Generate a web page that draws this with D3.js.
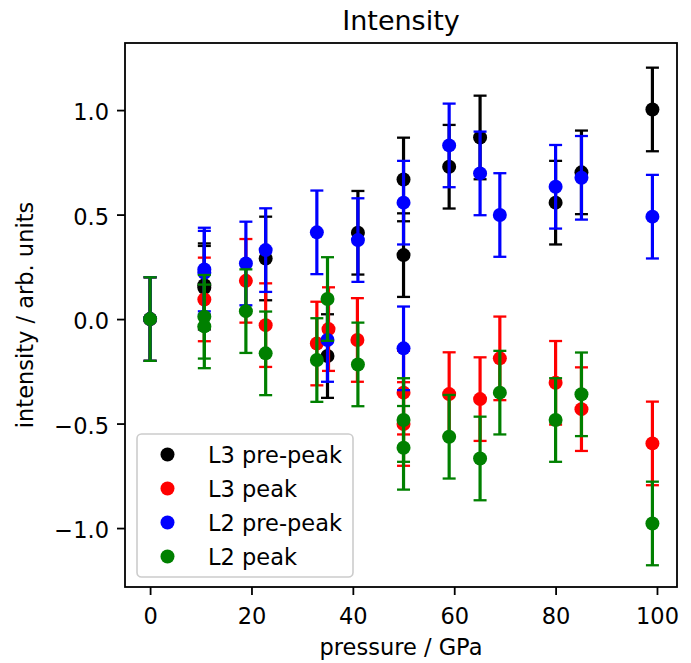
<!DOCTYPE html>
<html>
<head>
<meta charset="utf-8">
<script src="https://cdn.jsdelivr.net/npm/d3@7"></script>
<style>
  body { margin: 0; background: #fff; }
  text { font-family: "DejaVu Sans", sans-serif; fill: #000; }
</style>
</head>
<body>
<script>
"use strict";

// DATA
var pressureL3pre  = [0, 10.7, 10.7, 22.8, 35.0, 41.0, 50.0, 50.0, 59.0, 65.1, 80.0, 85.1, 99.1];
var intensityL3pre = [0, 0.162, 0.150, 0.290, -0.177, 0.413, 0.668, 0.306, 0.729, 0.869, 0.557, 0.702, 1.003];
var errorL3pre     = [0.2, 0.2, 0.2, 0.2, 0.2, 0.2, 0.2, 0.2, 0.2, 0.2, 0.2, 0.2, 0.2];

var pressureL3  = [0, 10.7, 18.9, 22.8, 32.9, 35.2, 40.9, 50.0, 50.0, 59.0, 65.1, 69.0, 80.0, 85.1, 99.1];
var intensityL3 = [0, 0.094, 0.183, -0.029, -0.117, -0.048, -0.100, -0.352, -0.502, -0.359, -0.383, -0.188, -0.305, -0.431, -0.595];
var errorL3     = [0.2, 0.2, 0.2, 0.2, 0.2, 0.2, 0.2, 0.2, 0.2, 0.2, 0.2, 0.2, 0.2, 0.2, 0.2];

var pressureL2pre  = [0, 10.7, 10.7, 18.9, 22.8, 32.9, 35.0, 41.0, 50.0, 50.0, 59.0, 65.1, 69.0, 80.0, 85.1, 99.1];
var intensityL2pre = [0, 0.222, 0.237, 0.266, 0.330, 0.415, -0.100, 0.378, 0.557, -0.140, 0.831, 0.697, 0.498, 0.633, 0.676, 0.490];
var errorL2pre     = [0.2, 0.2, 0.2, 0.2, 0.2, 0.2, 0.2, 0.2, 0.2, 0.2, 0.2, 0.2, 0.2, 0.2, 0.2, 0.2];

var pressureL2  = [0, 10.7, 10.7, 18.9, 22.8, 32.9, 35.0, 41.0, 50.0, 50.0, 59.0, 65.1, 69.0, 80.0, 85.1, 99.1];
var intensityL2 = [0, 0.011, -0.035, 0.038, -0.164, -0.196, 0.096, -0.217, -0.483, -0.616, -0.563, -0.667, -0.352, -0.483, -0.360, -0.978];
var errorL2     = [0.2, 0.2, 0.2, 0.2, 0.2, 0.2, 0.2, 0.2, 0.2, 0.2, 0.2, 0.2, 0.2, 0.2, 0.2, 0.2];

var seriesNames  = ["L3 pre-peak", "L3 peak", "L2 pre-peak", "L2 peak"];
var seriesColors = ["#000000", "#ff0000", "#0000ff", "#008000"];

var xTicks = [0, 20, 40, 60, 80, 100];
var yTicks = [-1.0, -0.5, 0.0, 0.5, 1.0];

(function() {
  window.addEventListener('load', init);

  function init() {
    var width = 691, height = 663;
    // plot frame, matches the matplotlib axes box
    var left = 125, right = 677, top = 43, bottom = 587;

    var svg = d3.select('body').append('svg')
      .attr('width', width)
      .attr('height', height);

    var x = d3.scaleLinear().domain([-4.95, 103.95]).range([left, right]);
    var y = d3.scaleLinear().domain([-1.282, 1.321]).range([bottom, top]);

    var series = [
      {p: pressureL3pre, v: intensityL3pre, e: errorL3pre},
      {p: pressureL3,    v: intensityL3,    e: errorL3},
      {p: pressureL2pre, v: intensityL2pre, e: errorL2pre},
      {p: pressureL2,    v: intensityL2,    e: errorL2}
    ];

    // axes
    var xAxis = d3.axisBottom(x).tickValues(xTicks).tickFormat(d3.format('d'))
      .tickSizeInner(8).tickSizeOuter(0).tickPadding(13);
    var yAxis = d3.axisLeft(y).tickValues(yTicks)
      .tickFormat(function(d) { return d3.format('.1f')(d).replace('-', '\u2212'); })
      .tickSizeInner(8).tickSizeOuter(0).tickPadding(8);

    var gx = svg.append('g').attr('transform', 'translate(0,' + bottom + ')').call(xAxis);
    var gy = svg.append('g').attr('transform', 'translate(' + left + ',0)').call(yAxis);
    [gx, gy].forEach(function(g) {
      g.select('.domain').remove();
      g.selectAll('.tick line').attr('stroke', '#000').attr('stroke-width', 1.8);
      g.selectAll('.tick text').style('font-size', '22.5px').attr('fill', '#000');
    });
    gy.selectAll('.tick text').attr('dy', '0.42em');

    // error bars + markers, drawn series by series
    var cap = 6.5;
    series.forEach(function(s, i) {
      var rows = s.p.map(function(p, j) { return {p: p, v: s.v[j], e: s.e[j]}; });
      var g = svg.append('g');
      g.selectAll('line.bar').data(rows).enter().append('line')
        .attr('x1', function(d) { return x(d.p); })
        .attr('x2', function(d) { return x(d.p); })
        .attr('y1', function(d) { return y(d.v - d.e); })
        .attr('y2', function(d) { return y(d.v + d.e); })
        .attr('stroke', seriesColors[i]).attr('stroke-width', 3.2);
      [-1, 1].forEach(function(sign) {
        g.selectAll('line.cap' + sign).data(rows).enter().append('line')
          .attr('x1', function(d) { return x(d.p) - cap; })
          .attr('x2', function(d) { return x(d.p) + cap; })
          .attr('y1', function(d) { return y(d.v + sign * d.e); })
          .attr('y2', function(d) { return y(d.v + sign * d.e); })
          .attr('stroke', seriesColors[i]).attr('stroke-width', 2.3);
      });
      g.selectAll('circle').data(rows).enter().append('circle')
        .attr('cx', function(d) { return x(d.p); })
        .attr('cy', function(d) { return y(d.v); })
        .attr('r', 7)
        .attr('fill', seriesColors[i]);
    });

    // frame
    svg.append('rect')
      .attr('x', left).attr('y', top)
      .attr('width', right - left).attr('height', bottom - top)
      .attr('fill', 'none').attr('stroke', '#000').attr('stroke-width', 1.8);

    // titles
    svg.append('text').attr('x', (left + right) / 2).attr('y', 30)
      .attr('text-anchor', 'middle').style('font-size', '27px').text('Intensity');
    svg.append('text').attr('x', (left + right) / 2).attr('y', 655)
      .attr('text-anchor', 'middle').style('font-size', '22.5px').text('pressure / GPa');
    svg.append('text')
      .attr('transform', 'translate(33,' + (top + bottom) / 2 + ') rotate(-90)')
      .attr('text-anchor', 'middle').style('font-size', '22.5px').text('intensity / arb. units');

    // LEGEND
    var legend = svg.append('g');
    legend.append('rect')
      .attr('x', 137).attr('y', 434).attr('width', 216).attr('height', 143)
      .attr('rx', 4.5).attr('ry', 4.5)
      .attr('fill', '#fff').attr('fill-opacity', 0.8)
      .attr('stroke', '#cccccc').attr('stroke-width', 1.6);
    seriesNames.forEach(function(name, i) {
      var cy = 454.5 + i * 34;
      legend.append('circle').attr('cx', 167.5).attr('cy', cy).attr('r', 7)
        .attr('fill', seriesColors[i]);
      legend.append('text').attr('x', 208).attr('y', cy + 8)
        .style('font-size', '22.5px').text(name);
    });
  }
})();
</script>
</body>
</html>
